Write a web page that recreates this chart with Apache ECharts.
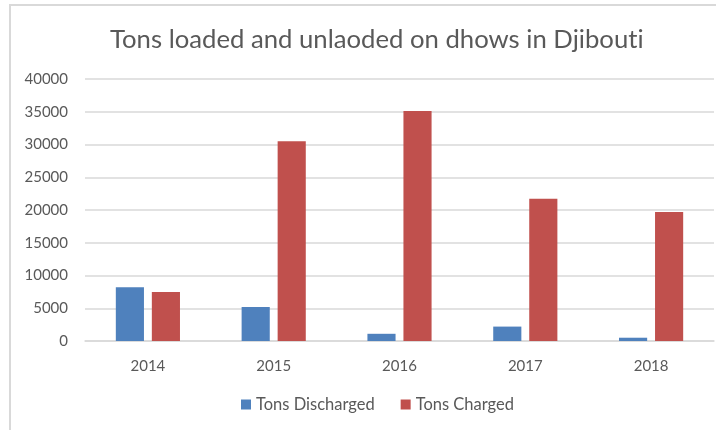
<!DOCTYPE html>
<html>
<head>
<meta charset="utf-8">
<script src="https://cdn.jsdelivr.net/npm/echarts@6/dist/echarts.min.js"></script>
<style>
  html, body { margin: 0; padding: 0; background: #fff; }
  #chart { width: 725px; height: 430px; }
</style>
</head>
<body>
<div id="chart"></div>
<script>
// data
var years = ['2014', '2015', '2016', '2017', '2018'];
var tonsDischarged = [8200, 5200, 1100, 2200, 500];
var tonsCharged = [7500, 30500, 35100, 21700, 19700];

var myChart = echarts.init(document.getElementById('chart'));
var font = 'Lato, "Liberation Sans", sans-serif';
var titleStyle = { fontSize: 25.7, fontWeight: 'normal', color: '#595959', fontFamily: font };

myChart.setOption({
  animation: false,
  textStyle: { fontFamily: font },
  title: {
    // the "t" is its own rich-text run so Lato doesn't draw a "ti" ligature
    text: 'Tons loaded and unlaoded on dhows in Djibou{t|t}i',
    left: 105,
    top: 22,
    textStyle: Object.assign({ rich: { t: titleStyle } }, titleStyle)
  },
  // light frame round the chart, like the spreadsheet chart area
  graphic: [{
    type: 'polyline',
    shape: { points: [[10, 430], [10, 5], [716, 5]] },
    style: { stroke: '#d9d9d9', lineWidth: 2, fill: null }
  }],
  legend: {
    bottom: 12,
    left: 236,
    itemWidth: 10,
    itemHeight: 10,
    itemGap: 26,
    icon: 'rect',
    textStyle: { fontSize: 16.5, color: '#595959', fontFamily: font }
  },
  grid: { left: 85, right: 11, top: 79, bottom: 89 },
  xAxis: {
    type: 'category',
    data: years,
    axisLine: { lineStyle: { color: '#d9d9d9', width: 1.5 } },
    axisTick: { show: false },
    axisLabel: { fontSize: 15, color: '#595959', margin: 18 }
  },
  yAxis: {
    type: 'value',
    min: 0,
    max: 40000,
    interval: 5000,
    axisLine: { show: false },
    axisTick: { show: false },
    splitLine: { lineStyle: { color: '#d9d9d9', width: 1.5 } },
    axisLabel: {
      fontSize: 15,
      color: '#595959',
      margin: 17,
      formatter: function (v) { return String(v); }
    }
  },
  series: [{
    name: 'Tons Discharged',
    type: 'bar',
    data: tonsDischarged,
    barGap: '28%',
    barCategoryGap: '49%',
    itemStyle: { color: '#4f81bd' }
  }, {
    name: 'Tons Charged',
    type: 'bar',
    data: tonsCharged,
    itemStyle: { color: '#c0504d' }
  }]
});
</script>
</body>
</html>
